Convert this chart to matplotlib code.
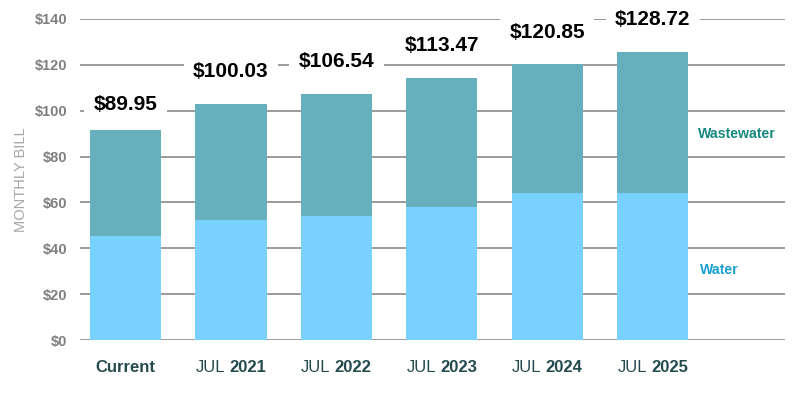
import numpy as np
import matplotlib
matplotlib.use('Agg')
from matplotlib import pyplot as plt
from matplotlib.offsetbox import TextArea, HPacker, AnnotationBbox

plt.rcParams['font.family'] = ['Liberation Sans', 'DejaVu Sans']

# data
periods = ['Current', 'JUL 2021', 'JUL 2022', 'JUL 2023', 'JUL 2024', 'JUL 2025']
water = [45.4, 52.3, 54.1, 58.0, 64.1, 64.1]
wastewater = [46.2, 50.6, 53.2, 56.3, 56.3, 61.5]
bill_labels = ['$89.95', '$100.03', '$106.54', '$113.47', '$120.85', '$128.72']
y_ticks = [0, 20, 40, 60, 80, 100, 120, 140]

# label offsets above the bar tops (points)
label_offsets = [18, 23.5, 23, 23.5, 22.5, 23.5]

water_color = '#79d1ff'
waste_color = '#66b0be'
grid_color = '#808080'
label_color = '#234a4e'

fig = plt.figure(figsize=(8.05, 3.94), dpi=100)
ax = fig.add_axes([0.0994, 0.137, 0.876, 0.815])

x = np.arange(len(periods))
w = 0.674
ax.bar(x, water, width=w, color=water_color, zorder=3)
ax.bar(x, wastewater, width=w, bottom=water, color=waste_color, zorder=3)

for yt in y_ticks:
    ax.axhline(yt, color=grid_color, lw=1.1, zorder=1)

totals = np.array(water) + np.array(wastewater)
for xi, t, lab, off in zip(x, totals, bill_labels, label_offsets):
    ax.annotate(lab, (xi, t), xytext=(0, off), textcoords='offset points',
                ha='center', va='center', fontsize=15, fontweight='bold',
                color='black', zorder=5,
                bbox=dict(boxstyle='square,pad=0.45', fc='white', ec='none'))

ax.set_xlim(-0.432, 6.257)
ax.set_ylim(0, 140)
ax.set_yticks(y_ticks)
ax.set_yticklabels(['$%d' % v for v in y_ticks], fontsize=10.5,
                   fontweight='bold', color='#7f7f7f')
ax.tick_params(axis='y', length=0, pad=9)
ax.set_xticks([])
for s in ax.spines.values():
    s.set_visible(False)

ax.set_ylabel('MONTHLY BILL', fontsize=10.5, color='#a6a6a6', labelpad=5)

# x labels: "JUL" regular, year bold
for xi, p in zip(x, periods):
    if ' ' in p:
        a, b = p.split(' ')
        parts = [TextArea(a, textprops=dict(fontsize=12, color=label_color)),
                 TextArea(b, textprops=dict(fontsize=12, color=label_color,
                                            fontweight='bold'))]
        box = HPacker(children=parts, align='baseline', pad=0, sep=3)
    else:
        box = TextArea(p, textprops=dict(fontsize=12, color=label_color,
                                         fontweight='bold'))
    ab = AnnotationBbox(box, (xi, 0), xybox=(0, -20), xycoords='data',
                        boxcoords='offset points', frameon=False,
                        box_alignment=(0.5, 0.5), annotation_clip=False)
    ax.add_artist(ab)

ax.text(5.43, 90, 'Wastewater', fontsize=10.2, fontweight='bold',
        color='#16897e', va='center', ha='left')
ax.text(5.45, 30.5, 'Water', fontsize=10.2, fontweight='bold',
        color='#1b9fd1', va='center', ha='left')

plt.savefig('out.png', dpi=100)
